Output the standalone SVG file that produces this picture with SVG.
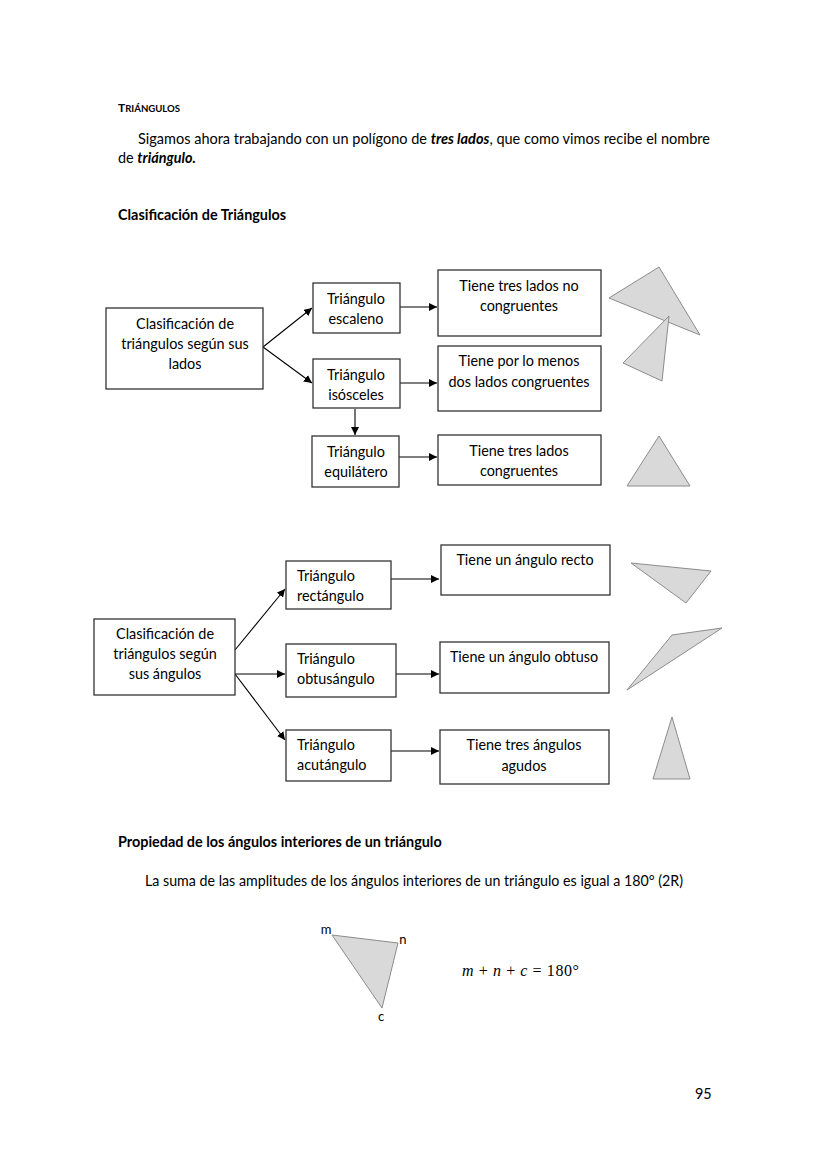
<svg xmlns="http://www.w3.org/2000/svg" width="828" height="1171" viewBox="0 0 828 1171">
<defs>
<marker id="ah" viewBox="0 0 10 10" refX="10" refY="5" markerWidth="8" markerHeight="8" markerUnits="userSpaceOnUse" orient="auto">
<path d="M0,0 L10,5 L0,10 z" fill="#000"/>
</marker>
<style>
text{font-family:Lato,"Open Sans","Liberation Sans",sans-serif;font-size:14.4px;fill:#000}
.c{text-anchor:middle}
.b{font-weight:bold}
.box{fill:#fff;stroke:#333;stroke-width:1.3}
.tri{fill:#d9d9d9;stroke:#8c8c8c;stroke-width:1}
.con{stroke:#000;stroke-width:1.1;fill:none;marker-end:url(#ah)}
.m{font-family:"Liberation Serif","DejaVu Serif",serif;font-size:16px}
.lbl{font-size:13px}
</style>
</defs>
<rect width="828" height="1171" fill="#fff"/>

<g id="header">
<text x="118" y="112" class="b" style="font-size:12px">T<tspan style="font-size:9.6px">RIÁNGULOS</tspan></text>
<text x="138" y="144" textLength="572" lengthAdjust="spacingAndGlyphs">Sigamos ahora trabajando con un polígono de <tspan class="b" font-style="italic">tres lados</tspan>, que como vimos recibe el nombre</text>
<text x="118" y="163">de <tspan class="b" font-style="italic">triángulo.</tspan></text>
<text x="118" y="220" class="b">Clasificación de Triángulos</text>
</g>

<g id="connectors">
<line class="con" x1="263" y1="347" x2="312" y2="308"/>
<line class="con" x1="263" y1="347" x2="312" y2="383"/>
<line class="con" x1="400" y1="307" x2="437" y2="307"/>
<line class="con" x1="400" y1="383" x2="437" y2="383"/>
<line class="con" x1="355" y1="409" x2="355" y2="435"/>
<line class="con" x1="399" y1="457" x2="437" y2="457"/>
<line class="con" x1="235" y1="650" x2="285" y2="589"/>
<line class="con" x1="235" y1="674" x2="285" y2="674"/>
<line class="con" x1="235" y1="674" x2="285" y2="740"/>
<line class="con" x1="391" y1="579" x2="439" y2="579"/>
<line class="con" x1="391" y1="674" x2="439" y2="674"/>
<line class="con" x1="391" y1="751" x2="439" y2="751"/>
</g>

<g id="lados">
<rect class="box" x="106" y="308" width="157" height="81"/>
<text class="c" x="185" y="329">Clasificación de</text>
<text class="c" x="185" y="349">triángulos según sus</text>
<text class="c" x="185" y="369">lados</text>
</g>
<g id="escaleno">
<rect class="box" x="313" y="283" width="87" height="50"/>
<text class="c" x="356" y="304">Triángulo</text>
<text class="c" x="356" y="324">escaleno</text>
</g>
<g id="isosceles">
<rect class="box" x="313" y="359" width="87" height="49"/>
<text class="c" x="356" y="380">Triángulo</text>
<text class="c" x="356" y="400">isósceles</text>
</g>
<g id="equilatero">
<rect class="box" x="312" y="436" width="87" height="51"/>
<text class="c" x="356" y="457">Triángulo</text>
<text class="c" x="356" y="477">equilátero</text>
</g>
<g id="noCongruentes">
<rect class="box" x="438" y="270" width="163" height="66"/>
<text class="c" x="519" y="291">Tiene tres lados no</text>
<text class="c" x="519" y="311">congruentes</text>
</g>
<g id="porLoMenos">
<rect class="box" x="438" y="346" width="163" height="65"/>
<text class="c" x="519" y="366">Tiene por lo menos</text>
<text class="c" x="519" y="387">dos lados congruentes</text>
</g>
<g id="tresCongruentes">
<rect class="box" x="438" y="435" width="163" height="50"/>
<text class="c" x="519" y="456">Tiene tres lados</text>
<text class="c" x="519" y="476">congruentes</text>
</g>
<g id="triangulos-lados">
<polygon class="tri" points="609,298 659,267 700,335"/>
<polygon class="tri" points="623,363 669,316 662,381"/>
<polygon class="tri" points="627,486 659,436 690,486"/>
</g>

<g id="angulos">
<rect class="box" x="94" y="619" width="141" height="76"/>
<text class="c" x="165" y="639">Clasificación de</text>
<text class="c" x="165" y="659">triángulos según</text>
<text class="c" x="165" y="679">sus ángulos</text>
</g>
<g id="rectangulo">
<rect class="box" x="286" y="561" width="105" height="48"/>
<text x="297" y="581">Triángulo</text>
<text x="297" y="601">rectángulo</text>
</g>
<g id="obtusangulo">
<rect class="box" x="286" y="644" width="110" height="53"/>
<text x="297" y="664">Triángulo</text>
<text x="297" y="684">obtusángulo</text>
</g>
<g id="acutangulo">
<rect class="box" x="286" y="730" width="105" height="51"/>
<text x="297" y="750">Triángulo</text>
<text x="297" y="770">acutángulo</text>
</g>
<g id="recto">
<rect class="box" x="441" y="545" width="169" height="50"/>
<text class="c" x="525" y="565">Tiene un ángulo recto</text>
</g>
<g id="obtuso">
<rect class="box" x="440" y="642" width="169" height="51"/>
<text class="c" x="524" y="662">Tiene un ángulo obtuso</text>
</g>
<g id="agudos">
<rect class="box" x="440" y="730" width="169" height="54"/>
<text class="c" x="524" y="750">Tiene tres ángulos</text>
<text class="c" x="524" y="771">agudos</text>
</g>
<g id="triangulos-angulos">
<polygon class="tri" points="631,563 711,571 686,603"/>
<polygon class="tri" points="627,690 672,635 722,628"/>
<polygon class="tri" points="672,717 653,779 690,779"/>
</g>

<g id="propiedad">
<text x="118" y="847" class="b">Propiedad de los ángulos interiores de un triángulo</text>
<text x="145" y="886" textLength="538" lengthAdjust="spacingAndGlyphs">La suma de las amplitudes de los ángulos interiores de un triángulo es igual a 180° (2R)</text>
<polygon class="tri" points="332,935 398,943 382,1008"/>
<text class="c lbl" x="326" y="934">m</text>
<text class="c lbl" x="403" y="944">n</text>
<text class="c lbl" x="381" y="1021">c</text>
<text class="m" x="462" y="976" textLength="117" lengthAdjust="spacing"><tspan font-style="italic">m</tspan> + <tspan font-style="italic">n</tspan> + <tspan font-style="italic">c</tspan> = 180°</text>
<text x="695" y="1099">95</text>
</g>
</svg>
